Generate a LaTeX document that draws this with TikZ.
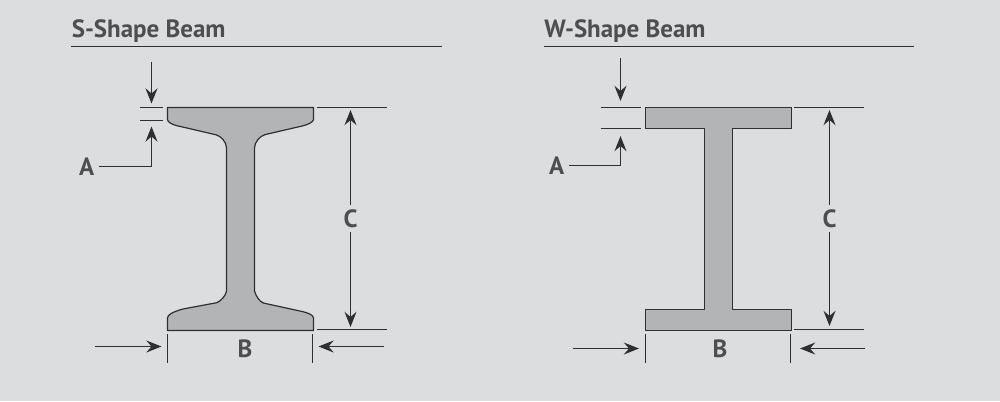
\documentclass[tikz,border=0pt]{standalone}
\usepackage{fontspec}
\setmainfont{PT Sans}
\usetikzlibrary{positioning}
\usetikzlibrary{arrows.meta}
\definecolor{pagegray}{HTML}{DCDDDF}
\definecolor{beamgray}{HTML}{B3B4B5}
\definecolor{inkgray}{HTML}{2F2F31}
\definecolor{textgray}{HTML}{4D4E50}
\tikzset{
  beam/.style={draw=inkgray,fill=beamgray,line width=0.3mm,line join=round},
  dimline/.style={draw=inkgray,line width=0.3mm},
  dimarrow/.style={dimline,-{Stealth[length=3.8mm,width=3mm,inset=1.3mm]}},
  heading/.style={anchor=base west,inner sep=0pt,text=textgray,font=\bfseries\fontsize{17.75}{20}\selectfont},
  letter/.style={inner sep=3pt,text=textgray,font=\bfseries\fontsize{17.75}{20}\selectfont}
}

\begin{document}
\begin{tikzpicture}[x=0.25mm,y=-0.25mm]

  \fill[pagegray] (0,0) rectangle (1000,401);
  \useasboundingbox (0,0) rectangle (1000,401);

  % left beam
  \node[heading] (stitle) at (71.5,37) {S-Shape Beam};
  \coordinate (srulea) at (71,46.5);
  \coordinate (sruleb) at (442,46.5);
  \draw[dimline] (srulea) -- (sruleb);

  \draw[beam] (167.5,107.5) -- (313.5,107.5) -- (313.5,119.5)
    .. controls (313.5,122) and (308,124.5) .. (303,125.8)
    -- (265,134.6) .. controls (260,136) and (254.5,142) .. (254.5,148)
    -- (254.5,291) .. controls (256,296) and (259,301) .. (263.3,303)
    -- (303,311.7) .. controls (308,313) and (313.5,315) .. (313.5,318)
    -- (313.5,330.5) -- (167.5,330.5) -- (167.5,318)
    .. controls (167.5,315) and (172,312) .. (183,309)
    -- (216.7,302.7) .. controls (220,301.5) and (226,296) .. (226.5,291)
    -- (226.5,148) .. controls (226.5,142) and (221,136) .. (216,134.8)
    -- (177,125.7) .. controls (172,124.5) and (167.5,122) .. (167.5,119.5) -- cycle;

  \node[letter] (sA) at (86.7,166.5) {A};
  \node[letter] (sB) at (245,349) {B};
  \node[letter] (sC) at (350.5,218.5) {C};

  \coordinate (sta) at (140,107.5);
  \coordinate (stb) at (163,107.5);
  \coordinate (sua) at (140,120.5);
  \coordinate (sub) at (163,120.5);
  \coordinate (sdrop) at (151.5,61.7);
  \coordinate (sdroptip) at (151.5,103.5);
  \coordinate (srisetip) at (151.5,126.5);
  \draw[dimline] (sta) -- (stb);
  \draw[dimline] (sua) -- (sub);
  \draw[dimarrow] (sdrop) -- (sdroptip);
  \draw[dimarrow] (sA.east) -| (srisetip);

  \coordinate (sca) at (316.7,107.5);
  \coordinate (scb) at (387,107.5);
  \coordinate (sda) at (316.7,329.5);
  \coordinate (sdb) at (387,329.5);
  \coordinate (sctip) at (350.5,110);
  \coordinate (sdtip) at (350.5,327);
  \draw[dimline] (sca) -- (scb);
  \draw[dimline] (sda) -- (sdb);
  \draw[dimarrow] (sC.north) -- (sctip);
  \draw[dimarrow] (sC.south) -- (sdtip);

  \coordinate (sea) at (167.5,334);
  \coordinate (seb) at (167.5,363);
  \coordinate (sfa) at (312.5,334);
  \coordinate (sfb) at (312.5,363);
  \coordinate (sga) at (95,346.5);
  \coordinate (sgb) at (161.5,346.5);
  \coordinate (sha) at (384,346.5);
  \coordinate (shb) at (318.5,346.5);
  \draw[dimline] (sea) -- (seb);
  \draw[dimline] (sfa) -- (sfb);
  \draw[dimarrow] (sga) -- (sgb);
  \draw[dimarrow] (sha) -- (shb);

  % right beam
  \node[heading] (wtitle) at (544,37) {W-Shape Beam};
  \coordinate (wrulea) at (544,46.5);
  \coordinate (wruleb) at (914,46.5);
  \draw[dimline] (wrulea) -- (wruleb);

  \draw[beam] (645.5,107.5) -- (791.5,107.5) -- (791.5,128.5) -- (732.5,128.5)
    -- (732.5,309.5) -- (791.5,309.5) -- (791.5,330.5) -- (645.5,330.5) -- (645.5,309.5)
    -- (704.5,309.5) -- (704.5,128.5) -- (645.5,128.5) -- cycle;

  \node[letter] (wA) at (556.7,165.5) {A};
  \node[letter] (wB) at (720,348.5) {B};
  \node[letter] (wC) at (829.5,218.5) {C};

  \coordinate (wta) at (600.7,107.5);
  \coordinate (wtb) at (640.7,107.5);
  \coordinate (wua) at (600.7,128.5);
  \coordinate (wub) at (640.7,128.5);
  \coordinate (wdrop) at (620.5,58.3);
  \coordinate (wdroptip) at (620.5,101);
  \coordinate (wrisetip) at (620.5,136);
  \draw[dimline] (wta) -- (wtb);
  \draw[dimline] (wua) -- (wub);
  \draw[dimarrow] (wdrop) -- (wdroptip);
  \draw[dimarrow] (wA.east) -| (wrisetip);

  \coordinate (wca) at (794.3,107.5);
  \coordinate (wcb) at (864.3,107.5);
  \coordinate (wda) at (794.3,329.5);
  \coordinate (wdb) at (864.3,329.5);
  \coordinate (wctip) at (829.5,110);
  \coordinate (wdtip) at (829.5,326);
  \draw[dimline] (wca) -- (wcb);
  \draw[dimline] (wda) -- (wdb);
  \draw[dimarrow] (wC.north) -- (wctip);
  \draw[dimarrow] (wC.south) -- (wdtip);

  \coordinate (wea) at (645.5,333.5);
  \coordinate (web) at (645.5,363.3);
  \coordinate (wfa) at (790.5,333.5);
  \coordinate (wfb) at (790.5,363.3);
  \coordinate (wga) at (572.7,348.5);
  \coordinate (wgb) at (639,348.5);
  \coordinate (wha) at (865,348.5);
  \coordinate (whb) at (800,348.5);
  \draw[dimline] (wea) -- (web);
  \draw[dimline] (wfa) -- (wfb);
  \draw[dimarrow] (wga) -- (wgb);
  \draw[dimarrow] (wha) -- (whb);

\end{tikzpicture}
\end{document}
